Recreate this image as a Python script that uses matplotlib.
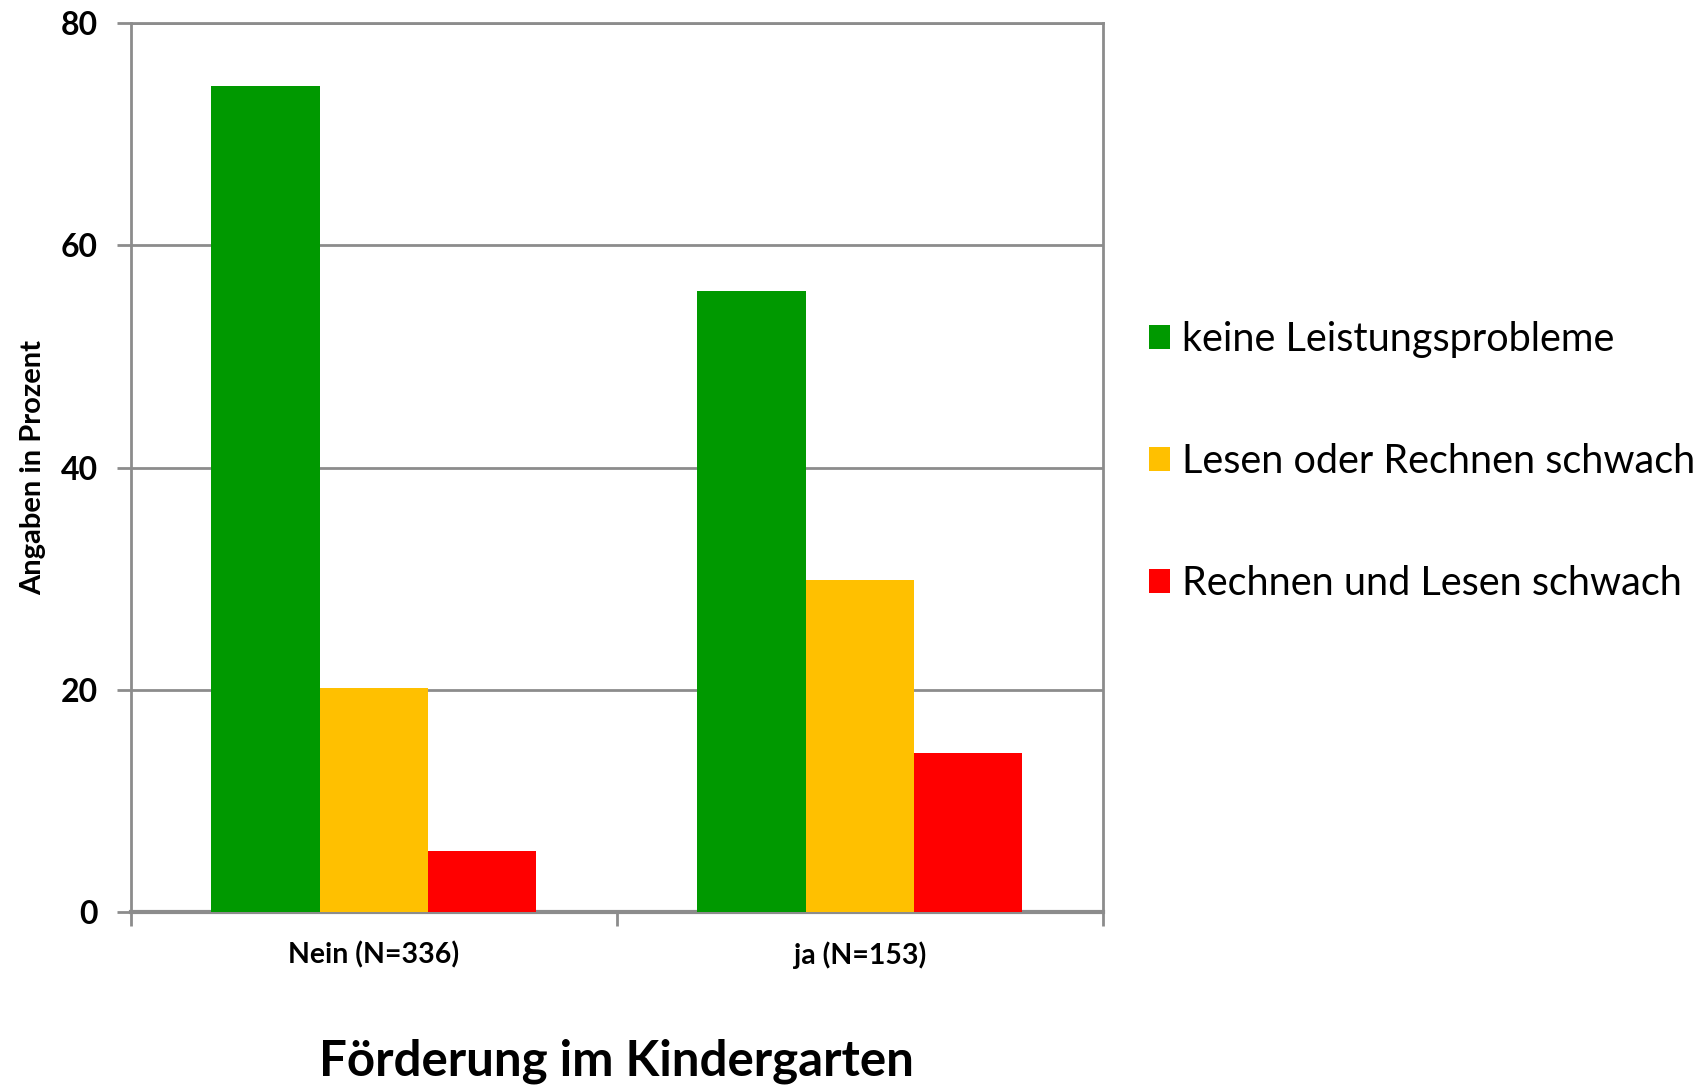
import numpy as np
import matplotlib.pyplot as plt
from matplotlib.patches import Patch

categories = ["Nein (N=336)", "ja (N=153)"]
series_names = [
    "keine Leistungsprobleme",
    "Lesen oder Rechnen schwach",
    "Rechnen und Lesen schwach",
]
keine_probleme = [74.3, 55.9]
lesen_oder_rechnen = [20.2, 29.9]
rechnen_und_lesen = [5.5, 14.3]
colors = ["#009900", "#FFC000", "#FF0000"]

plt.rcParams["font.family"] = ["Lato", "DejaVu Sans"]
grey = "#8c8c8c"

fig = plt.figure(figsize=(17.07, 10.90), dpi=100)
ax = fig.add_axes([0.0767, 0.1633, 0.5694, 0.8156])

x = np.arange(len(categories))
width = 0.223
values = [keine_probleme, lesen_oder_rechnen, rechnen_und_lesen]
for i, (vals, col) in enumerate(zip(values, colors)):
    ax.bar(x + (i - 1) * width, vals, width, color=col, zorder=3, linewidth=0)

ax.set_xlim(-0.5, 1.5)
ax.set_ylim(0, 80)
ax.set_yticks([0, 20, 40, 60, 80])
ax.yaxis.grid(True, color=grey, linewidth=2, zorder=0)

ax.set_xticks(x)
ax.set_xticklabels(categories, fontsize=20.5, fontweight="bold")
ax.set_xticks([-0.5, 0.5, 1.5], minor=True)
ax.tick_params(axis="x", which="major", length=0, pad=21)
ax.tick_params(axis="x", which="minor", length=10, width=2, color=grey, direction="out")
ax.tick_params(axis="y", length=10, width=2, color=grey, labelsize=23, pad=14)
for lab in ax.get_yticklabels():
    lab.set_fontweight("bold")

for side in ["left", "right", "top"]:
    ax.spines[side].set_color(grey)
    ax.spines[side].set_linewidth(2)
ax.spines["bottom"].set_color(grey)
ax.spines["bottom"].set_linewidth(3)

ax.set_ylabel("Angaben in Prozent", fontsize=21, fontweight="bold", labelpad=10)
ax.set_xlabel("Förderung im Kindergarten", fontsize=35.5, fontweight="bold", labelpad=50)

handles = [Patch(facecolor=c, edgecolor="none") for c in colors]
fig.legend(handles, series_names, loc="upper left", bbox_to_anchor=(0.652, 0.738),
           frameon=False, fontsize=28.5, labelspacing=2.15, handlelength=0.55,
           handleheight=0.55, handletextpad=0.3)

fig.savefig("out.png", dpi=100)
